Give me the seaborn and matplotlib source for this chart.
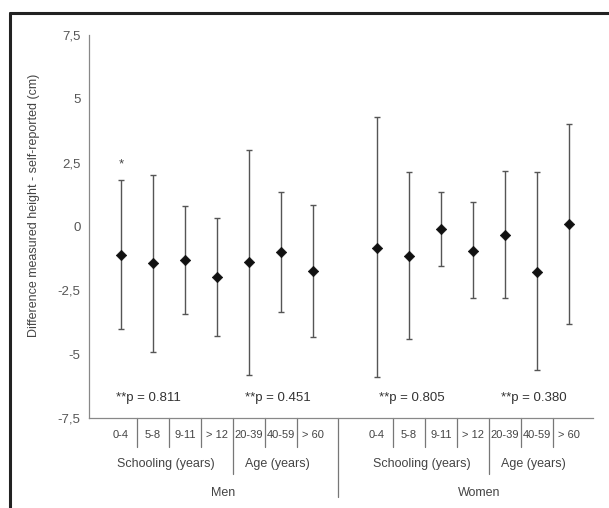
import numpy as np
import pandas as pd
import matplotlib.pyplot as plt
import seaborn as sns

sns.set_style("white")
plt.rcParams['font.family'] = ['Liberation Sans', 'DejaVu Sans']

# data
categories = ["0-4", "5-8", "9-11", "> 12", "20-39", "40-59", "> 60"]
groups = ["Schooling (years)", "Age (years)"]
sexes = ["Men", "Women"]

men_mean = [-1.12, -1.42, -1.33, -1.98, -1.39, -1.00, -1.74]
men_upper = [1.84, 2.03, 0.79, 0.33, 3.00, 1.37, 0.85]
men_lower = [-4.02, -4.90, -3.44, -4.28, -5.80, -3.35, -4.31]

women_mean = [-0.83, -1.15, -0.09, -0.96, -0.34, -1.77, 0.09]
women_upper = [4.27, 2.15, 1.37, 0.94, 2.19, 2.12, 4.02]
women_lower = [-5.88, -4.41, -1.55, -2.81, -2.81, -5.61, -3.80]

p_labels = ["**p = 0.811", "**p = 0.451", "**p = 0.805", "**p = 0.380"]
yticks = [-7.5, -5, -2.5, 0, 2.5, 5, 7.5]
ytick_labels = ["-7,5", "-5", "-2,5", "0", "2,5", "5", "7,5"]

# slot positions: men 1..7, one empty slot, women 9..15
men_pos = np.arange(1, 8)
women_pos = np.arange(9, 16)

df = pd.DataFrame({
    "pos": np.concatenate([men_pos, women_pos]),
    "mean": men_mean + women_mean,
    "upper": men_upper + women_upper,
    "lower": men_lower + women_lower,
    "label": categories + categories,
})

fig = plt.figure(figsize=(6.09, 5.08), dpi=100)
ax = fig.add_axes([89 / 609, 1 - 418 / 508, 504 / 609, 383 / 508])

ax.errorbar(df["pos"], df["mean"],
            yerr=[df["mean"] - df["lower"], df["upper"] - df["mean"]],
            fmt="none", ecolor="#555555", elinewidth=1.0, capsize=2.5, capthick=1.0)
sns.scatterplot(data=df, x="pos", y="mean", marker="D", color="#111111",
                s=28, edgecolor="#111111", linewidth=0.5, ax=ax, zorder=3)

ax.set_xlim(0, 15.75)
ax.set_ylim(-7.5, 7.5)
ax.set_yticks(yticks)
ax.set_yticklabels(ytick_labels)
ax.set_xticks([])
ax.set_xlabel("")
ax.set_ylabel("Difference measured height - self-reported (cm)", fontsize=9, color="#444444")
ax.yaxis.set_label_coords(-0.097, 0.556)
ax.tick_params(axis="y", direction="in", length=3, width=0.8, color="#888888",
               labelsize=9.5, labelcolor="#555555", pad=6)

for s in ["top", "right"]:
    ax.spines[s].set_visible(False)
for s in ["left", "bottom"]:
    ax.spines[s].set_color("#888888")
    ax.spines[s].set_linewidth(0.9)

# asterisk above men 0-4
ax.text(1, 2.45, "*", ha="center", va="center", fontsize=9.5, color="#444444")

# p-values
p_x = [1.85, 5.9, 10.1, 13.9]
for x, t in zip(p_x, p_labels):
    ax.text(x, -6.7, t, ha="center", va="center", fontsize=9.5, color="#333333")

# multi-level category axis
tr = ax.get_xaxis_transform()
for pos in (men_pos, women_pos):
    for x, lab in zip(pos, categories):
        ax.text(x, -0.044, lab, transform=tr, ha="center", va="center",
                fontsize=8, color="#444444", clip_on=False)
    for i in range(len(pos) - 1):
        xm = pos[i] + 0.5
        bottom = -0.146 if i == 3 else -0.076
        ax.plot([xm, xm], [0, bottom], transform=tr, color="#777777",
                lw=0.9, clip_on=False)
    ax.text(pos[0] + 1.4, -0.120, groups[0], transform=tr, ha="center", va="center",
            fontsize=9, color="#444444", clip_on=False)
    ax.text(pos[5] - 0.1, -0.120, groups[1], transform=tr, ha="center", va="center",
            fontsize=9, color="#444444", clip_on=False)

ax.plot([7.78, 7.78], [0, -0.206], transform=tr, color="#777777", lw=0.9, clip_on=False)
ax.text(4.18, -0.196, sexes[0], transform=tr, ha="center", va="center",
        fontsize=9, color="#444444", clip_on=False)
ax.text(12.2, -0.196, sexes[1], transform=tr, ha="center", va="center",
        fontsize=9, color="#444444", clip_on=False)

# outer frame (cropped at right and bottom in the source)
fig.add_artist(plt.Line2D([10 / 609, 1.0], [1 - 13 / 508] * 2, color="#222222", lw=2.2))
fig.add_artist(plt.Line2D([10 / 609] * 2, [0.0, 1 - 13 / 508], color="#222222", lw=2.2))

fig.savefig("out.png", dpi=100)
